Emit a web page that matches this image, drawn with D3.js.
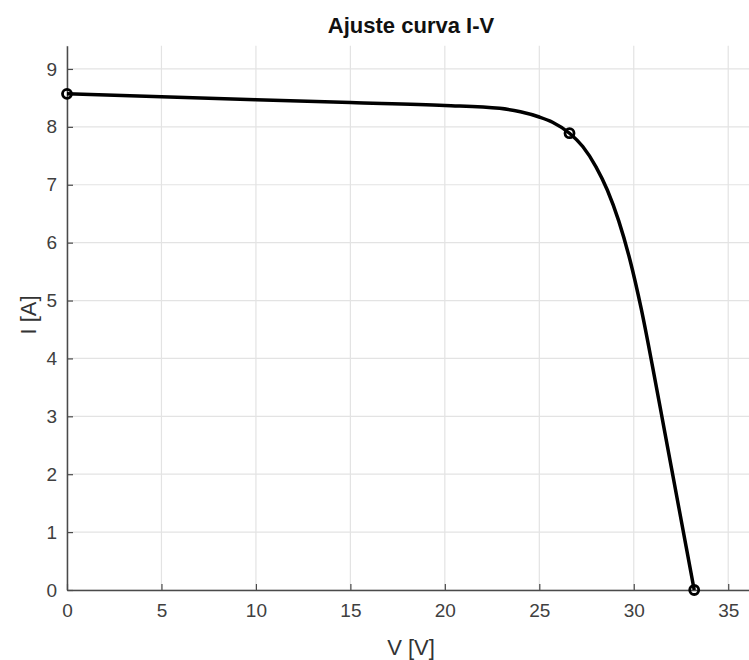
<!DOCTYPE html>
<html>
<head>
<meta charset="utf-8">
<script src="https://cdn.jsdelivr.net/npm/d3@7"></script>
<style>
  body { margin: 0; background: #fff; }
  text { font-family: Helvetica, Arial, "Liberation Sans", sans-serif; }
</style>
</head>
<body>
<script>
// curve
var voltage = [0, 5, 10, 15, 20, 22.9, 24, 25, 25.7, 26.6, 27.3, 28.0, 28.6, 29.2, 29.8, 30.4, 31.0, 31.6, 32.4, 33.2]
var current = [8.57, 8.52, 8.47, 8.42, 8.37, 8.32, 8.26, 8.17, 8.08, 7.89, 7.66, 7.31, 6.91, 6.38, 5.70, 4.85, 3.85, 2.80, 1.40, 0]
// marked points: Isc, MPP, Voc
var markV = [0, 26.6, 33.2]
var markI = [8.57, 7.89, 0]
var xTicks = [0, 5, 10, 15, 20, 25, 30, 35]
var yTicks = [0, 1, 2, 3, 4, 5, 6, 7, 8, 9]

var svg = d3.select("body").append("svg")
    .attr("width", 749)
    .attr("height", 660)

var x = d3.scaleLinear().domain([0, 36.1]).range([67, 749])
var y = d3.scaleLinear().domain([0, 9.4]).range([590, 45.8])

//grid
var grid = svg.append('g')
grid.selectAll('.gx').data(xTicks).enter().append('line')
    .attr('x1', d => x(d)).attr('x2', d => x(d))
    .attr('y1', y(0)).attr('y2', y(9.4))
    .style('stroke', '#e3e3e3').style('stroke-width', 1.2)
grid.selectAll('.gy').data(yTicks).enter().append('line')
    .attr('y1', d => y(d)).attr('y2', d => y(d))
    .attr('x1', x(0)).attr('x2', x(36.1))
    .style('stroke', '#e3e3e3').style('stroke-width', 1.2)

//axes
var gx = svg.append('g').attr('transform', 'translate(0,' + y(0) + ')')
    .call(d3.axisBottom(x).tickValues(xTicks).tickSize(-6).tickPadding(14).tickSizeOuter(0))
var gy = svg.append('g').attr('transform', 'translate(' + x(0) + ',0)')
    .call(d3.axisLeft(y).tickValues(yTicks).tickSize(-6).tickPadding(10).tickSizeOuter(0))
svg.selectAll('.domain').style('stroke', '#4a4a4a').style('stroke-width', 1.5)
svg.selectAll('.tick line').style('stroke', '#4a4a4a').style('stroke-width', 1.2)
svg.selectAll('.tick text')
    .attr("font-family", "Helvetica, Arial, 'Liberation Sans', sans-serif")
    .attr('font-size', '19px').attr('fill', '#404040')

//curve
var pts = voltage.map((v, i) => [v, current[i]])
svg.append('path')
    .datum(pts)
    .attr('d', d3.line().x(d => x(d[0])).y(d => y(d[1])).curve(d3.curveMonotoneX))
    .style('fill', 'none')
    .style('stroke', 'black')
    .style('stroke-width', 3.5)

svg.selectAll('.mark').data(markV).enter().append('circle')
    .attr('cx', d => x(d))
    .attr('cy', (d, i) => y(markI[i]))
    .attr('r', 4.5)
    .style('fill', 'none')
    .style('stroke', 'black')
    .style('stroke-width', 2.8)

//title and labels
svg.append('text').attr('x', 411).attr('y', 33)
    .attr('text-anchor', 'middle')
    .attr('font-size', '22px').attr('font-weight', 'bold').attr('fill', '#111')
    .text('Ajuste curva I-V')
svg.append('text').attr('x', 411).attr('y', 655)
    .attr('text-anchor', 'middle')
    .attr('font-size', '22px').attr('fill', '#333')
    .text('V [V]')
svg.append('text')
    .attr('transform', 'translate(36,315) rotate(-90)')
    .attr('text-anchor', 'middle')
    .attr('font-size', '22px').attr('fill', '#333')
    .text('I [A]')
</script>
</body>
</html>
